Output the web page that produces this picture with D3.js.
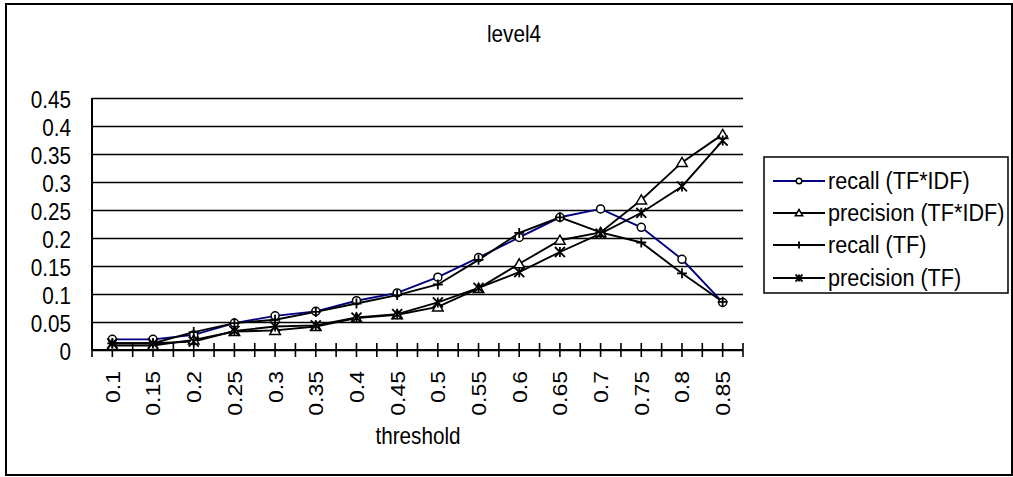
<!DOCTYPE html>
<html>
<head>
<meta charset="utf-8">
<script src="https://cdn.jsdelivr.net/npm/d3@7"></script>
<style>
  html, body { margin: 0; padding: 0; background: #fff; }
  svg { display: block; font-family: "Liberation Sans", Arial, sans-serif; }
</style>
</head>
<body>
<svg id="chart" width="1013" height="477"></svg>
<script>
// Threshold categories and the four measured series
const thresholds = ["0.1","0.15","0.2","0.25","0.3","0.35","0.4","0.45","0.5","0.55","0.6","0.65","0.7","0.75","0.8","0.85"];
const recallTfIdf    = [0.019, 0.019, 0.027, 0.048, 0.061, 0.069, 0.088, 0.102, 0.130, 0.165, 0.201, 0.237, 0.252, 0.219, 0.162, 0.085];
const precisionTfIdf = [0.008, 0.008, 0.018, 0.033, 0.035, 0.042, 0.057, 0.063, 0.077, 0.110, 0.154, 0.196, 0.210, 0.268, 0.335, 0.385];
const recallTf       = [0.012, 0.012, 0.032, 0.048, 0.054, 0.068, 0.083, 0.098, 0.117, 0.161, 0.209, 0.237, 0.210, 0.192, 0.137, 0.086];
const precisionTf    = [0.012, 0.012, 0.015, 0.034, 0.042, 0.044, 0.058, 0.064, 0.085, 0.111, 0.139, 0.175, 0.208, 0.245, 0.292, 0.374];
const yTicks = [0, 0.05, 0.1, 0.15, 0.2, 0.25, 0.3, 0.35, 0.4, 0.45];
const seriesNames = ["recall (TF*IDF)", "precision (TF*IDF)", "recall (TF)", "precision (TF)"];

const series = [
  { name: seriesNames[0], values: recallTfIdf,    color: "#000080", marker: "circle" },
  { name: seriesNames[1], values: precisionTfIdf, color: "#000000", marker: "triangle" },
  { name: seriesNames[2], values: recallTf,       color: "#000000", marker: "plus" },
  { name: seriesNames[3], values: precisionTf,    color: "#000000", marker: "star" }
];

const svg = d3.select("#chart");
const FONT = 23, SX = 0.9;

// outer chart frame
svg.append("rect").attr("x", 6).attr("y", 4).attr("width", 1006).attr("height", 471)
  .attr("fill", "#fff").attr("stroke", "#000").attr("stroke-width", 2);

const plot = { left: 92, right: 743, top: 98, bottom: 350 };
const x = d3.scaleBand().domain(thresholds).range([plot.left, plot.right]).padding(0);
const bw = x.bandwidth();
const cx = c => x(c) + bw / 2;
const y = d3.scaleLinear().domain([0, 0.45]).range([plot.bottom, plot.top]);

// horizontal gridlines + y labels
const yAxis = svg.append("g").attr("transform", `translate(${plot.left},0)`)
  .call(d3.axisLeft(y).tickValues(yTicks).tickFormat(d => d3.format("")(+d.toFixed(2)))
    .tickSizeInner(-(plot.right - plot.left)).tickSizeOuter(0).tickPadding(21));
yAxis.select(".domain").remove();
yAxis.selectAll(".tick line").attr("stroke", "#000").attr("stroke-width", 1.6);
yAxis.selectAll(".tick text")
  .attr("fill", "#000").attr("font-size", FONT).attr("font-family", null)
  .attr("dy", "0.43em")
  .attr("transform", function () { const tx = +this.getAttribute("x"); return `translate(${tx},0) scale(${SX},1)`; })
  .attr("x", 0);

// y axis line
svg.append("line").attr("x1", plot.left).attr("x2", plot.left)
  .attr("y1", plot.top).attr("y2", plot.bottom).attr("stroke", "#000").attr("stroke-width", 2);

// x axis with rotated labels
const xAxis = svg.append("g").attr("transform", `translate(0,${plot.bottom})`)
  .call(d3.axisBottom(x).tickSize(0).tickPadding(0));
xAxis.select(".domain").remove();
xAxis.selectAll(".tick text")
  .attr("fill", "#000").attr("font-size", FONT).attr("font-family", null)
  .attr("text-anchor", "end").attr("x", 0).attr("y", 0).attr("dy", "0.36em")
  .attr("transform", `translate(0,21) scale(${SX},1) rotate(-90)`);

svg.append("line").attr("x1", plot.left).attr("x2", plot.right)
  .attr("y1", plot.bottom).attr("y2", plot.bottom).attr("stroke", "#000").attr("stroke-width", 2);

// tick marks at category boundaries and centres, crossing the axis
const tickPos = [];
thresholds.forEach(c => { tickPos.push(x(c)); tickPos.push(cx(c)); });
tickPos.push(plot.right);
svg.append("g").selectAll("line").data(tickPos).join("line")
  .attr("x1", d => d).attr("x2", d => d)
  .attr("y1", plot.bottom - 7).attr("y2", plot.bottom + 7)
  .attr("stroke", "#000").attr("stroke-width", 1.6);

// marker drawing
function drawMarker(g, type, s, color) {
  if (type === "circle") {
    g.append("circle").attr("r", 4 * s).attr("fill", "#fff").attr("stroke", "#000").attr("stroke-width", 1.5);
  } else if (type === "triangle") {
    const h = 5 * s;
    g.append("path").attr("d", `M0,${-h}L${h * 1.05},${h * 0.8}L${-h * 1.05},${h * 0.8}Z`)
      .attr("fill", "#fff").attr("stroke", "#000").attr("stroke-width", 1.5);
  } else if (type === "plus") {
    const h = 5 * s;
    g.append("path").attr("d", `M${-h},0H${h}M0,${-h}V${h}`).attr("stroke", "#000").attr("stroke-width", 1.8);
  } else if (type === "star") {
    const h = 5 * s;
    g.append("path").attr("d", `M${-h},${-h}L${h},${h}M${-h},${h}L${h},${-h}M0,${-h}V${h}`)
      .attr("stroke", "#000").attr("stroke-width", 1.8);
  }
}

const line = d3.line().x((d, i) => cx(thresholds[i])).y(d => y(d));

series.forEach(s => {
  svg.append("path").datum(s.values).attr("d", line)
    .attr("fill", "none").attr("stroke", s.color).attr("stroke-width", 1.9);
});
series.forEach(s => {
  s.values.forEach((v, i) => {
    const g = svg.append("g").attr("transform", `translate(${cx(thresholds[i])},${y(v)})`);
    drawMarker(g, s.marker, 1, s.color);
  });
});

// title and axis title
function label(txt, tx, ty, size, anchor) {
  svg.append("text").attr("transform", `translate(${tx},${ty}) scale(${SX},1)`)
    .attr("text-anchor", anchor).attr("font-size", size).attr("fill", "#000").text(txt);
}
label("level4", 514, 42, FONT, "middle");
label("threshold", 418, 444, FONT, "middle");

// legend
const lg = { x: 764, y: 157, w: 244, h: 136 };
svg.append("rect").attr("x", lg.x).attr("y", lg.y).attr("width", lg.w).attr("height", lg.h)
  .attr("fill", "#fff").attr("stroke", "#000").attr("stroke-width", 1.5);
const rowY = [181, 213, 245, 278];
series.forEach((s, i) => {
  const ry = rowY[i];
  svg.append("line").attr("x1", 773).attr("x2", 825).attr("y1", ry).attr("y2", ry)
    .attr("stroke", s.color).attr("stroke-width", 1.9);
  const g = svg.append("g").attr("transform", `translate(799,${ry})`);
  drawMarker(g, s.marker, 0.7, s.color);
  label(s.name, 828, ry + 8, 24, "start");
});
</script>
</body>
</html>
